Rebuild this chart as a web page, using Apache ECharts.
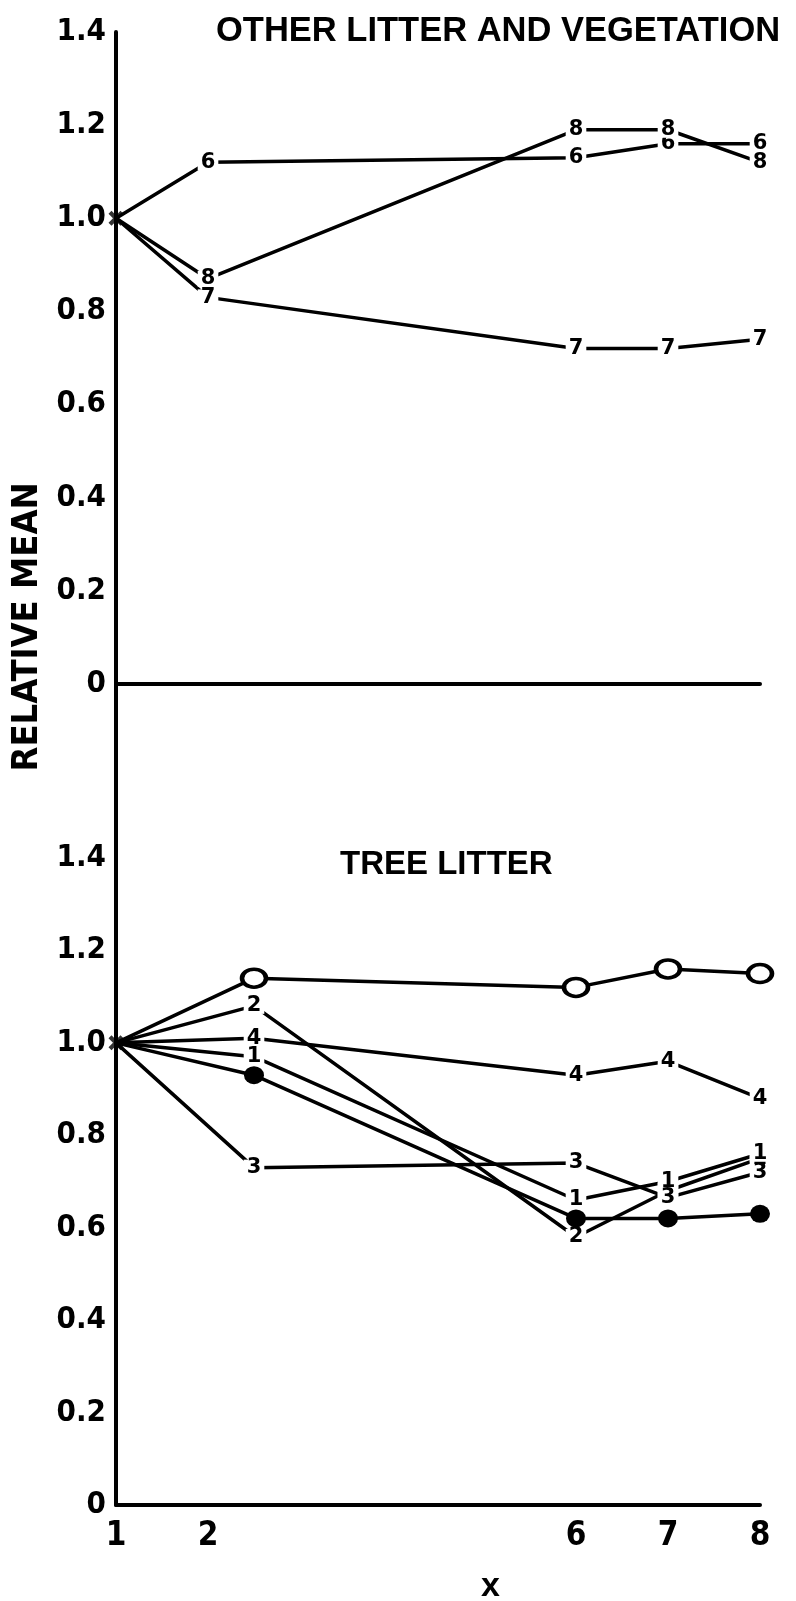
<!DOCTYPE html>
<html>
<head>
<meta charset="utf-8">
<script src="https://cdn.jsdelivr.net/npm/echarts@6/dist/echarts.min.js"></script>
<style>
  html, body { margin: 0; padding: 0; background: #fff; }
  #chart { width: 796px; height: 1601px; }
</style>
</head>
<body>
<div id="chart"></div>
<script>
// Sampling occasions (x) and axis tick labels
const xTop = [1, 2, 6, 7, 8];
const xBottom = [1, 2.5, 6, 7, 8];
const xTickLabels = [1, 2, 6, 7, 8];
const yTickLabels = ['0', '0.2', '0.4', '0.6', '0.8', '1.0', '1.2', '1.4'];

// OTHER LITTER AND VEGETATION — relative means, one line per site
const other6 = [1.0, 1.12, 1.13, 1.16, 1.16];
const other7 = [1.0, 0.83, 0.72, 0.72, 0.74];
const other8 = [1.0, 0.87, 1.19, 1.19, 1.12];

// TREE LITTER — relative means, one line per site
const treeO = [1.0, 1.14, 1.12, 1.16, 1.15];
const tree2 = [1.0, 1.08, 0.58, 0.68, 0.75];
const tree4 = [1.0, 1.01, 0.93, 0.96, 0.88];
const tree1 = [1.0, 0.97, 0.66, 0.70, 0.76];
const treeDot = [1.0, 0.93, 0.62, 0.62, 0.63];
const tree3 = [1.0, 0.73, 0.74, 0.665, 0.72];

const INK = '#000';
const NARROW = '"DejaVu Sans Condensed", "Liberation Sans Narrow", "Liberation Sans", sans-serif';
const SANS = '"Liberation Sans", Arial, sans-serif';

const pairs = (xs, ys) => xs.map((x, i) => [x, ys[i]]);

// Line whose points are marked with the site numeral
function numeralLine(tag, xs, ys, axis) {
  return {
    type: 'line',
    name: tag,
    xAxisIndex: axis, yAxisIndex: axis,
    data: pairs(xs, ys),
    symbol: 'circle', symbolSize: 1,
    itemStyle: { color: INK },
    lineStyle: { color: INK, width: 3.5 },
    label: {
      show: true, position: 'inside',
      formatter: p => (p.dataIndex === 0 ? '' : tag),
      color: INK, fontSize: 21, fontWeight: 'bold', fontFamily: '"DejaVu Sans", sans-serif',
      lineHeight: 16, backgroundColor: '#fff', padding: [0, 3]
    },
    animation: false, z: 3
  };
}

// Line whose points are marked with a drawn symbol
function symbolLine(name, xs, ys, axis, size, style) {
  return {
    type: 'line',
    name: name,
    xAxisIndex: axis, yAxisIndex: axis,
    data: pairs(xs, ys),
    symbol: 'circle',
    symbolSize: (v, p) => (p.dataIndex === 0 ? 0 : size),
    showAllSymbol: true,
    itemStyle: style,
    lineStyle: { color: INK, width: 3.5 },
    animation: false, z: 4
  };
}

// Common starting point marker (x = 1, relative mean = 1)
function originMark(axis) {
  return {
    type: 'scatter',
    xAxisIndex: axis, yAxisIndex: axis,
    data: [[xTop[0], other6[0]]],
    symbol: 'path://M2,0 L5,3 L8,0 L10,2 L7,5 L10,8 L8,10 L5,7 L2,10 L0,8 L3,5 L0,2 Z',
    symbolSize: 15,
    itemStyle: { color: INK },
    animation: false, z: 6
  };
}

const yLabelFmt = v => {
  if (v < -1e-9) return '';
  return yTickLabels[Math.round(v / 0.2)] ?? '';
};
const xLabelFmt = v => (xTickLabels.includes(v) ? String(v) : '');

const yAxisCommon = {
  type: 'value', interval: 0.2,
  axisLine: { show: true, lineStyle: { color: INK, width: 4 } },
  axisTick: { show: false },
  splitLine: { show: false },
  axisLabel: { formatter: yLabelFmt, color: INK, fontSize: 31, fontWeight: 'bold', fontFamily: NARROW, margin: 10 }
};

const chart = echarts.init(document.getElementById('chart'), null, { renderer: 'canvas' });
chart.setOption({
  backgroundColor: '#fff',
  animation: false,
  grid: [
    { left: 116, width: 644, top: 32, height: 838 },
    { left: 116, width: 644, top: 858, height: 647 }
  ],
  xAxis: [
    {
      gridIndex: 0, type: 'value', min: 1, max: 8, interval: 1,
      axisLine: { onZero: true, lineStyle: { color: INK, width: 4 } },
      axisTick: { show: false }, axisLabel: { show: false }, splitLine: { show: false }
    },
    {
      gridIndex: 1, type: 'value', min: 1, max: 8, interval: 1,
      axisLine: { lineStyle: { color: INK, width: 4 } },
      axisTick: { show: false }, splitLine: { show: false },
      axisLabel: { formatter: xLabelFmt, color: INK, fontSize: 33, fontWeight: 'bold', fontFamily: NARROW, margin: 15 }
    }
  ],
  yAxis: [
    Object.assign({ gridIndex: 0, min: -0.4, max: 1.4 }, yAxisCommon),
    Object.assign({ gridIndex: 1, min: 0, max: 1.4 }, yAxisCommon)
  ],
  graphic: [
    { type: 'text', left: 216, top: 14, style: { text: 'OTHER LITTER AND VEGETATION', fill: INK, font: 'bold 34.5px ' + SANS } },
    { type: 'text', left: 340, top: 848, style: { text: 'TREE LITTER', fill: INK, font: 'bold 33px ' + SANS } },
    { type: 'text', left: 481, top: 1570, style: { text: 'x', fill: INK, font: 'bold 34px ' + SANS } },
    {
      type: 'text', x: 28, y: 627, rotation: Math.PI / 2,
      style: { text: 'RELATIVE MEAN', fill: INK, font: 'bold 36px ' + NARROW, align: 'center', verticalAlign: 'middle' }
    }
  ],
  series: [
    numeralLine('6', xTop, other6, 0),
    numeralLine('7', xTop, other7, 0),
    numeralLine('8', xTop, other8, 0),
    originMark(0),
    symbolLine('O', xBottom, treeO, 1, [24, 18], { color: '#fff', borderColor: INK, borderWidth: 4 }),
    numeralLine('2', xBottom, tree2, 1),
    numeralLine('4', xBottom, tree4, 1),
    numeralLine('1', xBottom, tree1, 1),
    symbolLine('dot', xBottom, treeDot, 1, [20, 18], { color: INK }),
    numeralLine('3', xBottom, tree3, 1),
    originMark(1)
  ]
});
</script>
</body>
</html>
